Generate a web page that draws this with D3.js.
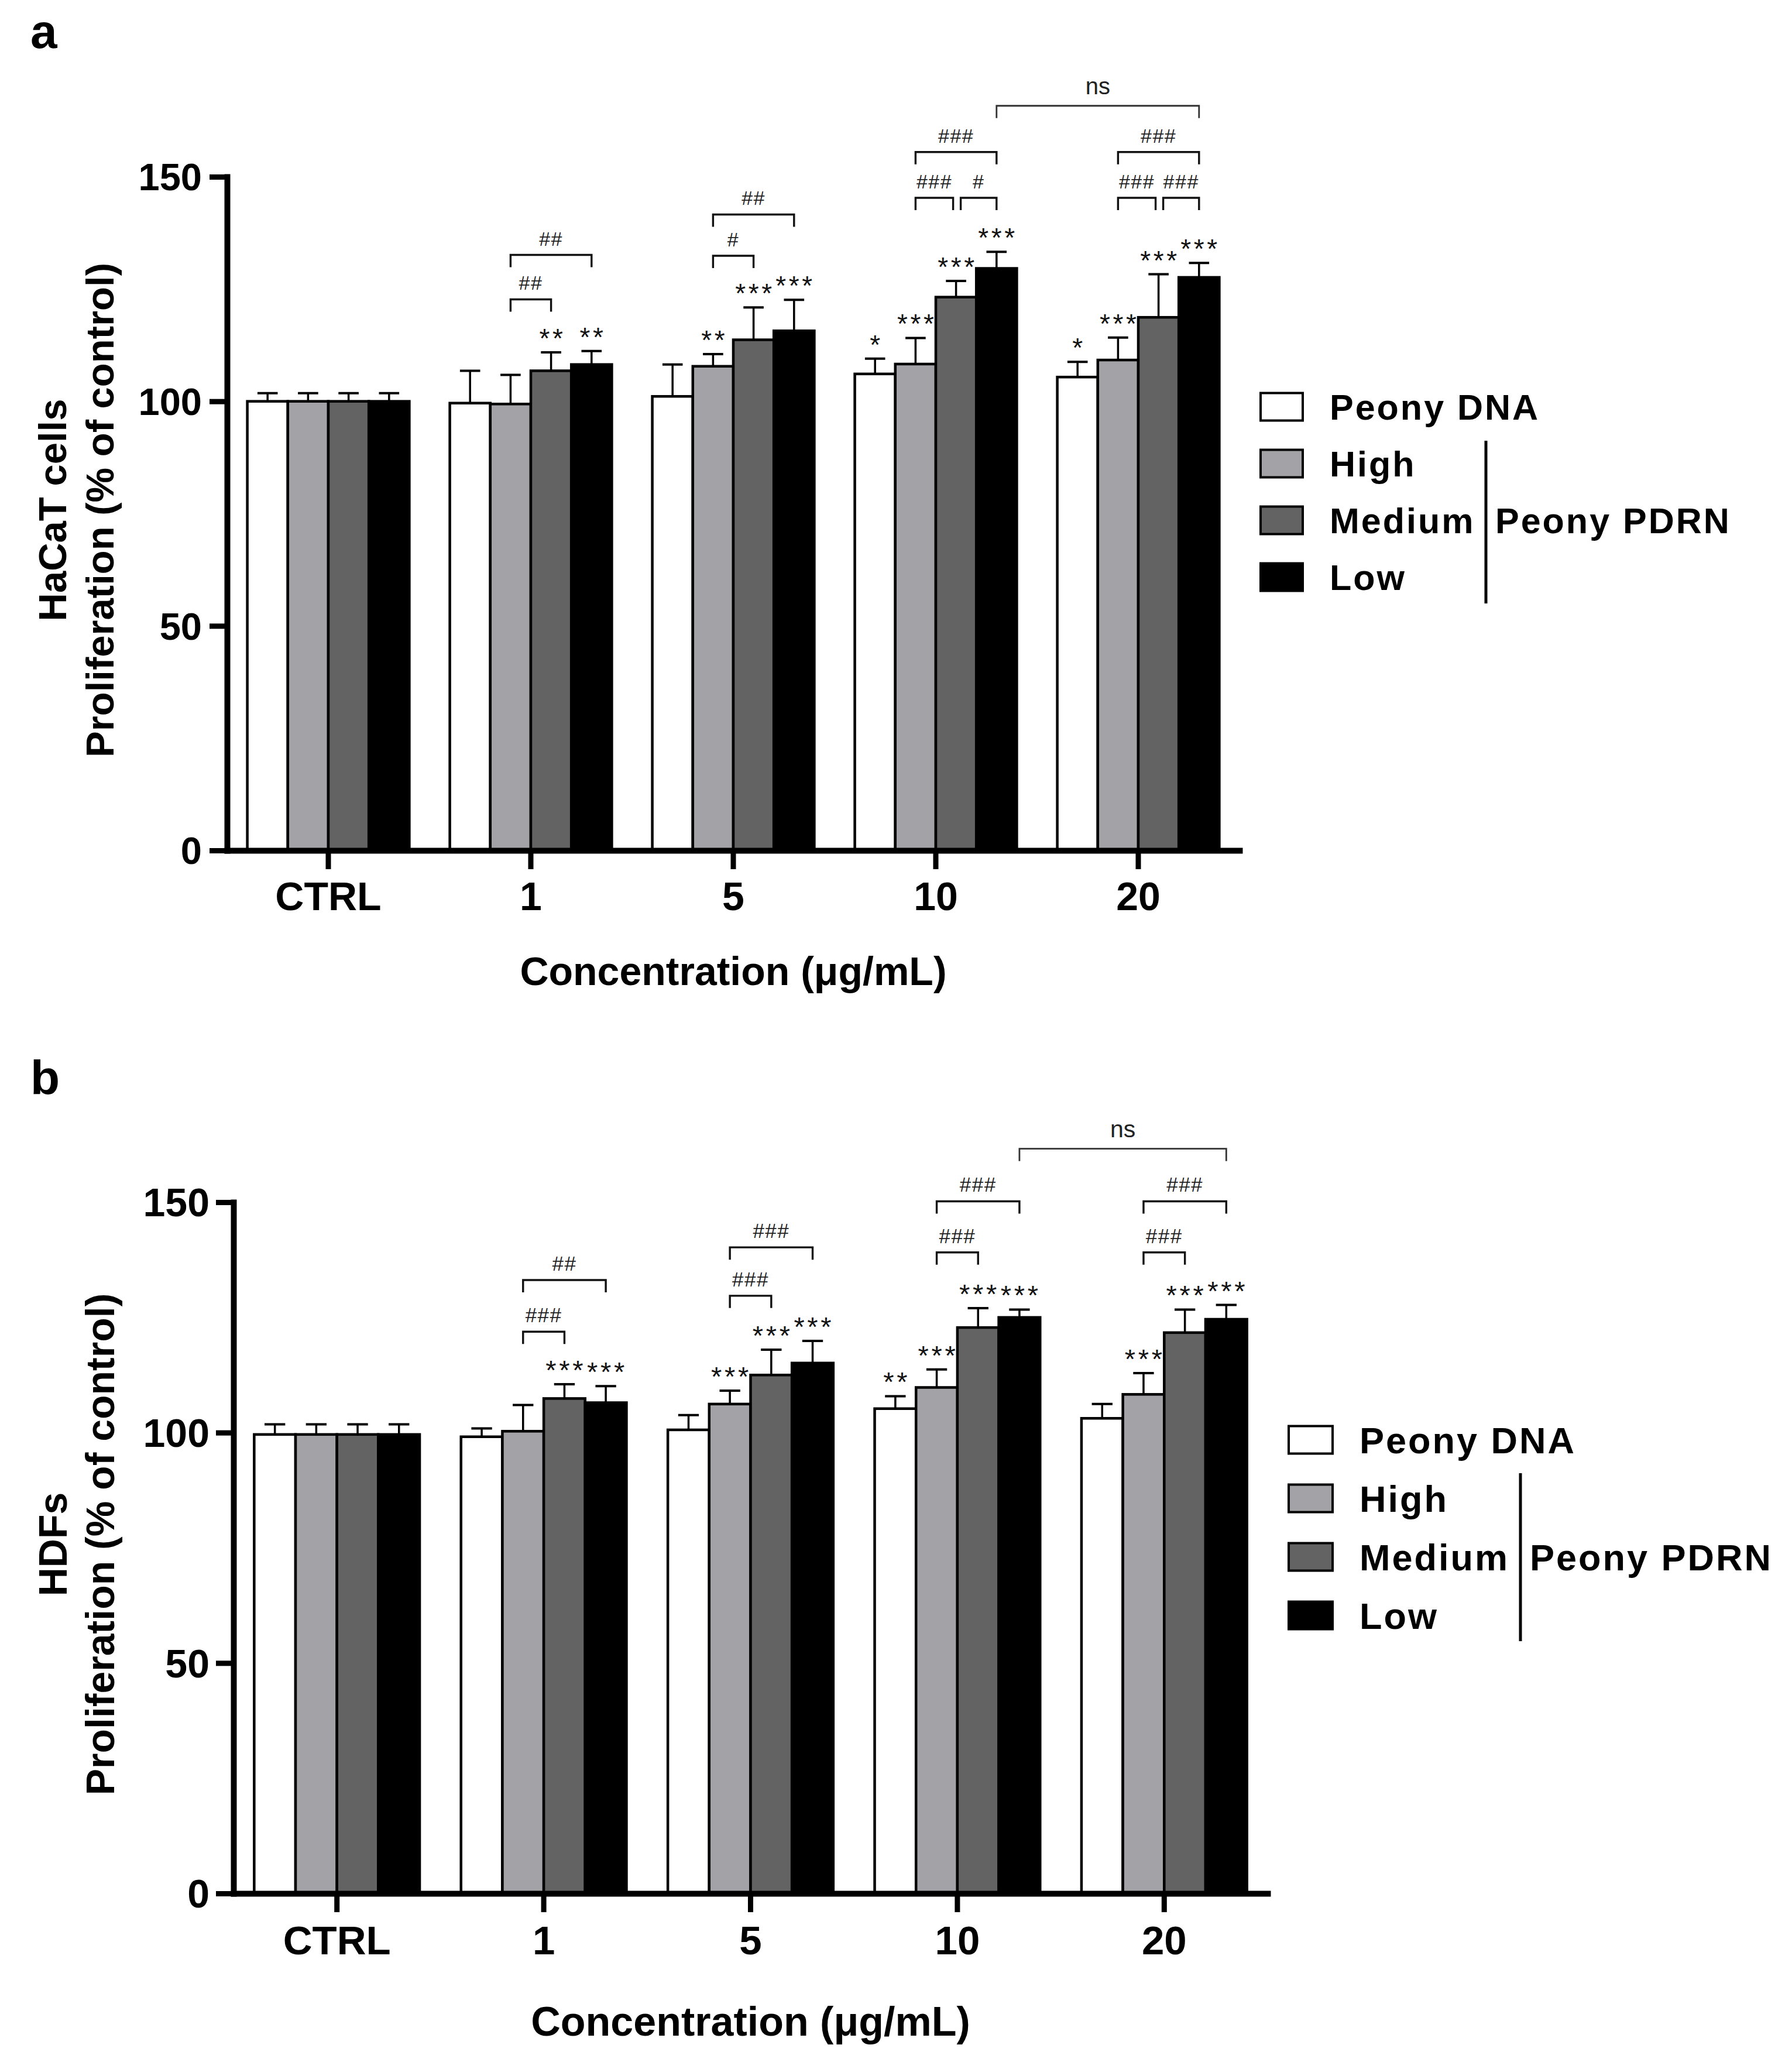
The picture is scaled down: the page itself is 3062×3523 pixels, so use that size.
<!DOCTYPE html>
<html><head><meta charset="utf-8">
<script src="https://cdn.jsdelivr.net/npm/d3@7/dist/d3.min.js"></script>
<style>body{margin:0;background:#fff}svg{display:block}</style>
</head><body>
<script>
// ---------- DATA ----------
const categories = ["CTRL", "1", "5", "10", "20"];
const seriesNames = ["Peony DNA", "High", "Medium", "Low"];
const groupLabel = "Peony PDRN";
const seriesColors = ["#ffffff", "#a3a3a7", "#636363", "#000000"];
const yTicks = [0, 50, 100, 150];

// Panel a: HaCaT cells (mean, SD) rows = categories, cols = series
const hacatMean = [
  [100.0, 100.0, 100.0, 100.0],
  [99.6, 99.4, 106.8, 108.2],
  [101.1, 107.8, 113.7, 115.7],
  [106.1, 108.3, 123.2, 129.6],
  [105.4, 109.2, 118.7, 127.6]
];
const hacatSD = [
  [1.8, 1.8, 1.8, 1.8],
  [7.2, 6.5, 4.1, 3.0],
  [7.1, 2.7, 7.2, 6.9],
  [3.4, 5.8, 3.6, 3.7],
  [3.4, 5.0, 9.6, 3.2]
];
const hacatStars = [
  ["", "", "", ""],
  ["", "", "**", "**"],
  ["", "**", "***", "***"],
  ["*", "***", "***", "***"],
  ["*", "***", "***", "***"]
];
const hacatBrackets = [
  {c1: "1", s1: 1, c2: "1", s2: 2, level: 122.7, label: "##"},
  {c1: "1", s1: 1, c2: "1", s2: 3, level: 132.6, label: "##"},
  {c1: "5", s1: 1, c2: "5", s2: 2, level: 132.4, label: "#"},
  {c1: "5", s1: 1, c2: "5", s2: 3, level: 141.6, label: "##"},
  {c1: "10", s1: 1, c2: "10", s2: 2, level: 145.3, label: "###"},
  {c1: "10", s1: 2, c2: "10", s2: 3, level: 145.3, label: "#"},
  {c1: "10", s1: 1, c2: "10", s2: 3, level: 155.5, label: "###"},
  {c1: "20", s1: 1, c2: "20", s2: 2, level: 145.3, label: "###"},
  {c1: "20", s1: 2, c2: "20", s2: 3, level: 145.3, label: "###"},
  {c1: "20", s1: 1, c2: "20", s2: 3, level: 155.5, label: "###"},
  {c1: "10", s1: 3, c2: "20", s2: 3, level: 165.8, label: "ns"}
];

// Panel b: HDFs
const hdfMean = [
  [99.6, 99.6, 99.6, 99.6],
  [99.1, 100.3, 107.4, 106.5],
  [100.6, 106.2, 112.5, 115.1],
  [105.2, 109.8, 122.8, 125.0],
  [103.1, 108.3, 121.7, 124.6]
];
const hdfSD = [
  [2.2, 2.2, 2.2, 2.2],
  [1.8, 5.7, 3.1, 3.6],
  [3.2, 2.9, 5.5, 4.8],
  [2.7, 3.9, 4.2, 1.7],
  [3.1, 4.6, 5.0, 3.1]
];
const hdfStars = [
  ["", "", "", ""],
  ["", "", "***", "***"],
  ["", "***", "***", "***"],
  ["**", "***", "***", "***"],
  ["", "***", "***", "***"]
];
const hdfBrackets = [
  {c1: "1", s1: 1, c2: "1", s2: 2, level: 121.9, label: "###"},
  {c1: "1", s1: 1, c2: "1", s2: 3, level: 133.1, label: "##"},
  {c1: "5", s1: 1, c2: "5", s2: 2, level: 129.7, label: "###"},
  {c1: "5", s1: 1, c2: "5", s2: 3, level: 140.2, label: "###"},
  {c1: "10", s1: 1, c2: "10", s2: 2, level: 139.1, label: "###"},
  {c1: "10", s1: 1, c2: "10", s2: 3, level: 150.2, label: "###"},
  {c1: "20", s1: 1, c2: "20", s2: 2, level: 139.1, label: "###"},
  {c1: "20", s1: 1, c2: "20", s2: 3, level: 150.2, label: "###"},
  {c1: "10", s1: 3, c2: "20", s2: 3, level: 161.6, label: "ns"}
];

// ---------- DRAW ----------
const FONT = "'Liberation Sans', Arial, Helvetica, sans-serif";
const W = 3062, H = 3523;
const svg = d3.select("body").append("svg").attr("width", W).attr("height", H)
  .attr("viewBox", `0 0 ${W} ${H}`).style("background", "#fff");

function panel(o) {
  const g = svg.append("g");
  const x = d3.scaleBand().domain(categories).range([o.x0, o.x1]).paddingInner(0.2).paddingOuter(0.1);
  const xs = d3.scaleBand().domain(d3.range(seriesNames.length)).range([0, x.bandwidth()]);
  const y = d3.scaleLinear().domain([0, 150]).range([o.yZero, o.yTop]);
  const cx = (c, j) => x(c) + xs(j) + xs.bandwidth() / 2;

  const rows = [];
  categories.forEach((c, i) => seriesNames.forEach((s, j) =>
    rows.push({c, j, m: o.mean[i][j], sd: o.sd[i][j], star: o.stars[i][j]})));

  // bars
  g.append("g").selectAll("rect").data(rows).join("rect")
    .attr("x", d => x(d.c) + xs(d.j))
    .attr("width", xs.bandwidth())
    .attr("y", d => y(d.m))
    .attr("height", d => y(0) - y(d.m))
    .attr("fill", d => seriesColors[d.j])
    .attr("stroke", "#000").attr("stroke-width", 4.5);

  // error bars (upper only)
  const eb = g.append("g").attr("stroke", "#000");
  eb.selectAll("line.v").data(rows).join("line").attr("class", "v")
    .attr("x1", d => cx(d.c, d.j)).attr("x2", d => cx(d.c, d.j))
    .attr("y1", d => y(d.m)).attr("y2", d => y(d.m + d.sd))
    .attr("stroke-width", 3.5);
  eb.selectAll("line.cap").data(rows).join("line").attr("class", "cap")
    .attr("x1", d => cx(d.c, d.j) - xs.bandwidth() / 4)
    .attr("x2", d => cx(d.c, d.j) + xs.bandwidth() / 4)
    .attr("y1", d => y(d.m + d.sd)).attr("y2", d => y(d.m + d.sd))
    .attr("stroke-width", 4);

  // significance stars
  g.append("g").selectAll("text").data(rows.filter(d => d.star)).join("text")
    .attr("x", d => cx(d.c, d.j) + o.starFs * 0.05)
    .attr("y", d => y(d.m + d.sd) - 8)
    .attr("text-anchor", "middle")
    .attr("font-family", FONT).attr("font-size", o.starFs)
    .attr("letter-spacing", o.starFs * 0.1)
    .attr("fill", "#111")
    .text(d => d.star);

  // brackets
  const br = o.brackets.map(b => ({...b, xa: cx(b.c1, b.s1), xb: cx(b.c2, b.s2), yb: y(b.level)}));
  br.forEach(a => br.forEach(b => {
    if (a !== b && a.level === b.level && Math.abs(a.xb - cx(b.c1, b.s1)) < 1) { a.xb -= 5; b.xa += 8; }
  }));
  const bg = g.append("g");
  bg.selectAll("path").data(br).join("path")
    .attr("d", d => `M${d.xa},${d.yb + o.brTick}V${d.yb}H${d.xb}V${d.yb + o.brTick}`)
    .attr("fill", "none")
    .attr("stroke", d => d.label === "ns" ? "#333" : "#111")
    .attr("stroke-width", d => d.label === "ns" ? 2.8 : 3.4);
  bg.selectAll("text").data(br).join("text")
    .attr("x", d => (d.xa + d.xb) / 2)
    .attr("y", d => d.yb - (d.label === "ns" ? 20 : 16))
    .attr("text-anchor", "middle")
    .attr("font-family", FONT)
    .attr("font-size", d => d.label === "ns" ? o.nsFs : o.hashFs)
    .attr("letter-spacing", d => d.label === "ns" ? 0 : 1.5)
    .attr("fill", "#222")
    .text(d => d.label);

  // y axis
  const ya = g.append("g").attr("transform", `translate(${o.x0},0)`)
    .call(d3.axisLeft(y).tickValues(yTicks).tickSize(30).tickSizeOuter(0).tickPadding(o.ytPad));
  ya.select(".domain").attr("stroke", "#000").attr("stroke-width", 10).attr("stroke-linecap", "square");
  ya.selectAll(".tick line").attr("stroke", "#000").attr("stroke-width", 9);
  ya.selectAll(".tick text").attr("font-family", FONT).attr("font-weight", "bold")
    .attr("font-size", o.ytFs).attr("fill", "#000").attr("dy", "0.35em");

  // x axis
  const xa = g.append("g").attr("transform", `translate(0,${o.yZero})`)
    .call(d3.axisBottom(x).tickSize(32).tickSizeOuter(0));
  xa.select(".domain").attr("stroke", "#000").attr("stroke-width", 10).attr("stroke-linecap", "square");
  xa.selectAll(".tick line").attr("stroke", "#000").attr("stroke-width", 9);
  xa.selectAll(".tick text").attr("font-family", FONT).attr("font-weight", "bold")
    .attr("font-size", o.xtFs).attr("fill", "#000").attr("y", o.xtBase).attr("dy", 0);

  // axis titles
  g.append("text")
    .attr("x", (o.x0 + o.x1) / 2).attr("y", o.yZero + o.xlBase)
    .attr("text-anchor", "middle").attr("font-family", FONT).attr("font-weight", "bold")
    .attr("font-size", o.xlFs).attr("fill", "#000")
    .text("Concentration (\u03BCg/mL)");
  const cy = (o.yZero + o.yTop) / 2 - 6;
  o.ylabel.forEach((t, k) => {
    g.append("text")
      .attr("transform", `translate(${o.ylX[k]},${cy}) rotate(-90)`)
      .attr("text-anchor", "middle").attr("font-family", FONT).attr("font-weight", "bold")
      .attr("font-size", o.ylFs).attr("fill", "#000").text(t);
  });

  // panel letter
  g.append("text").attr("x", 52).attr("y", o.letterY)
    .attr("font-family", FONT).attr("font-weight", "bold").attr("font-size", 82)
    .attr("fill", "#000").text(o.letter);

  // legend
  const lg = g.append("g");
  const rowY = i => o.lgY0 + i * o.lgStep;
  lg.selectAll("rect").data(seriesNames).join("rect")
    .attr("x", o.lgX).attr("y", (d, i) => rowY(i) - o.lgH / 2)
    .attr("width", o.lgW).attr("height", o.lgH)
    .attr("fill", (d, i) => seriesColors[i]).attr("stroke", "#000").attr("stroke-width", 4);
  lg.selectAll("text.name").data(seriesNames).join("text").attr("class", "name")
    .attr("x", o.lgTx).attr("y", (d, i) => rowY(i) + o.lgFs * 0.36)
    .attr("font-family", FONT).attr("font-weight", "bold").attr("font-size", o.lgFs)
    .attr("letter-spacing", 3).attr("fill", "#000").text(d => d);
  lg.append("line").attr("x1", o.vlX).attr("x2", o.vlX).attr("y1", o.vlY0).attr("y2", o.vlY1)
    .attr("stroke", "#000").attr("stroke-width", 5);
  lg.append("text").attr("x", o.vlX + 16).attr("y", (rowY(1) + rowY(3)) / 2 + o.lgFs * 0.36)
    .attr("font-family", FONT).attr("font-weight", "bold").attr("font-size", o.lgFs)
    .attr("letter-spacing", 3).attr("fill", "#000").text(groupLabel);
}

panel({
  letter: "a", letterY: 82,
  x0: 388, x1: 2118, yZero: 1453, yTop: 302,
  mean: hacatMean, sd: hacatSD, stars: hacatStars, brackets: hacatBrackets,
  starFs: 46, hashFs: 34, nsFs: 40, brTick: 21,
  ytFs: 65, ytPad: 13, xtFs: 68, xtBase: 102,
  xlFs: 68, xlBase: 230,
  ylabel: ["HaCaT cells", "Proliferation (% of control)"], ylX: [113, 194], ylFs: 67,
  lgX: 2154, lgW: 72, lgH: 47, lgY0: 695, lgStep: 97, lgTx: 2272, lgFs: 61,
  vlX: 2539, vlY0: 753, vlY1: 1031
});

panel({
  letter: "b", letterY: 1869,
  x0: 399, x1: 2166, yZero: 3235, yTop: 2054,
  mean: hdfMean, sd: hdfSD, stars: hdfStars, brackets: hdfBrackets,
  starFs: 47, hashFs: 35, nsFs: 41, brTick: 21,
  ytFs: 68, ytPad: 11, xtFs: 69, xtBase: 104,
  xlFs: 70, xlBase: 243,
  ylabel: ["HDFs", "Proliferation (% of control)"], ylX: [114, 195], ylFs: 68,
  lgX: 2202, lgW: 75, lgH: 47, lgY0: 2460, lgStep: 100, lgTx: 2323, lgFs: 63,
  vlX: 2598, vlY0: 2517, vlY1: 2804
});
</script>
</body></html>
